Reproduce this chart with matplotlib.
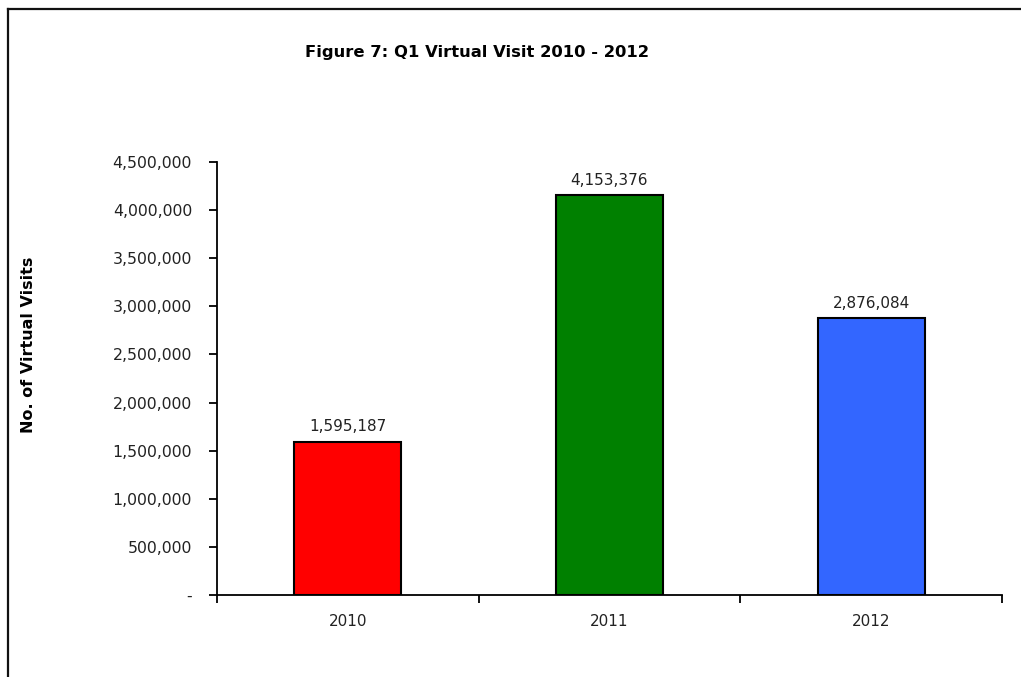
import matplotlib
matplotlib.use('Agg')
import matplotlib.pyplot as plt
from matplotlib.ticker import FuncFormatter, FixedLocator
from matplotlib.lines import Line2D

years = ['2010', '2011', '2012']
visits = [1595187, 4153376, 2876084]
colors = ['#FF0000', '#008000', '#3366FF']

plt.rcParams['font.family'] = ['DejaVu Sans']

fig = plt.figure(figsize=(10.21, 6.77), dpi=100)
ax = fig.add_axes([0.2125, 0.1211, 0.7689, 0.6396])

x = range(len(years))
bars = ax.bar(x, visits, width=0.41, color=colors, edgecolor='black', linewidth=1.5)

for b, v in zip(bars, visits):
    ax.text(b.get_x() + b.get_width() / 2, v + 80000, f'{v:,}',
            ha='center', va='bottom', fontsize=11, color='#222222')

ax.set_xlim(-0.5, len(years) - 0.5)
ax.set_ylim(0, 4500000)
ax.set_yticks(range(0, 4500001, 500000))
ax.yaxis.set_major_formatter(FuncFormatter(lambda v, p: '-' if v == 0 else f'{int(v):,}'))

# category labels sit between the boundary ticks
ax.set_xticks(list(x))
ax.set_xticklabels(years)
ax.tick_params(axis='x', which='major', length=0, pad=14, labelsize=11, labelcolor='#222222')
ax.xaxis.set_minor_locator(FixedLocator([-0.5, 0.5, 1.5, 2.5]))
ax.tick_params(axis='x', which='minor', length=6, width=1.3, direction='out')
ax.tick_params(axis='y', length=6, width=1.3, pad=12, labelsize=11.3, labelcolor='#222222')

for s in ['top', 'right']:
    ax.spines[s].set_visible(False)
for s in ['left', 'bottom']:
    ax.spines[s].set_linewidth(1.3)

ax.set_ylabel('No. of Virtual Visits', fontsize=11.5, fontweight='bold', labelpad=0)
ax.yaxis.set_label_coords(-0.231, 0.577)

fig.text(0.467, 0.923, 'Figure 7: Q1 Virtual Visit 2010 - 2012', ha='center', va='center',
         fontsize=11.8, fontweight='bold')

# chart frame (only top and left edges visible)
fig.add_artist(Line2D([7.5 / 1021, 7.5 / 1021], [0, 1 - 8.5 / 677], color='#111111', linewidth=1.6))
fig.add_artist(Line2D([7.5 / 1021, 1], [1 - 8.5 / 677, 1 - 8.5 / 677], color='#111111', linewidth=1.6))

fig.savefig('out.png', dpi=100)
